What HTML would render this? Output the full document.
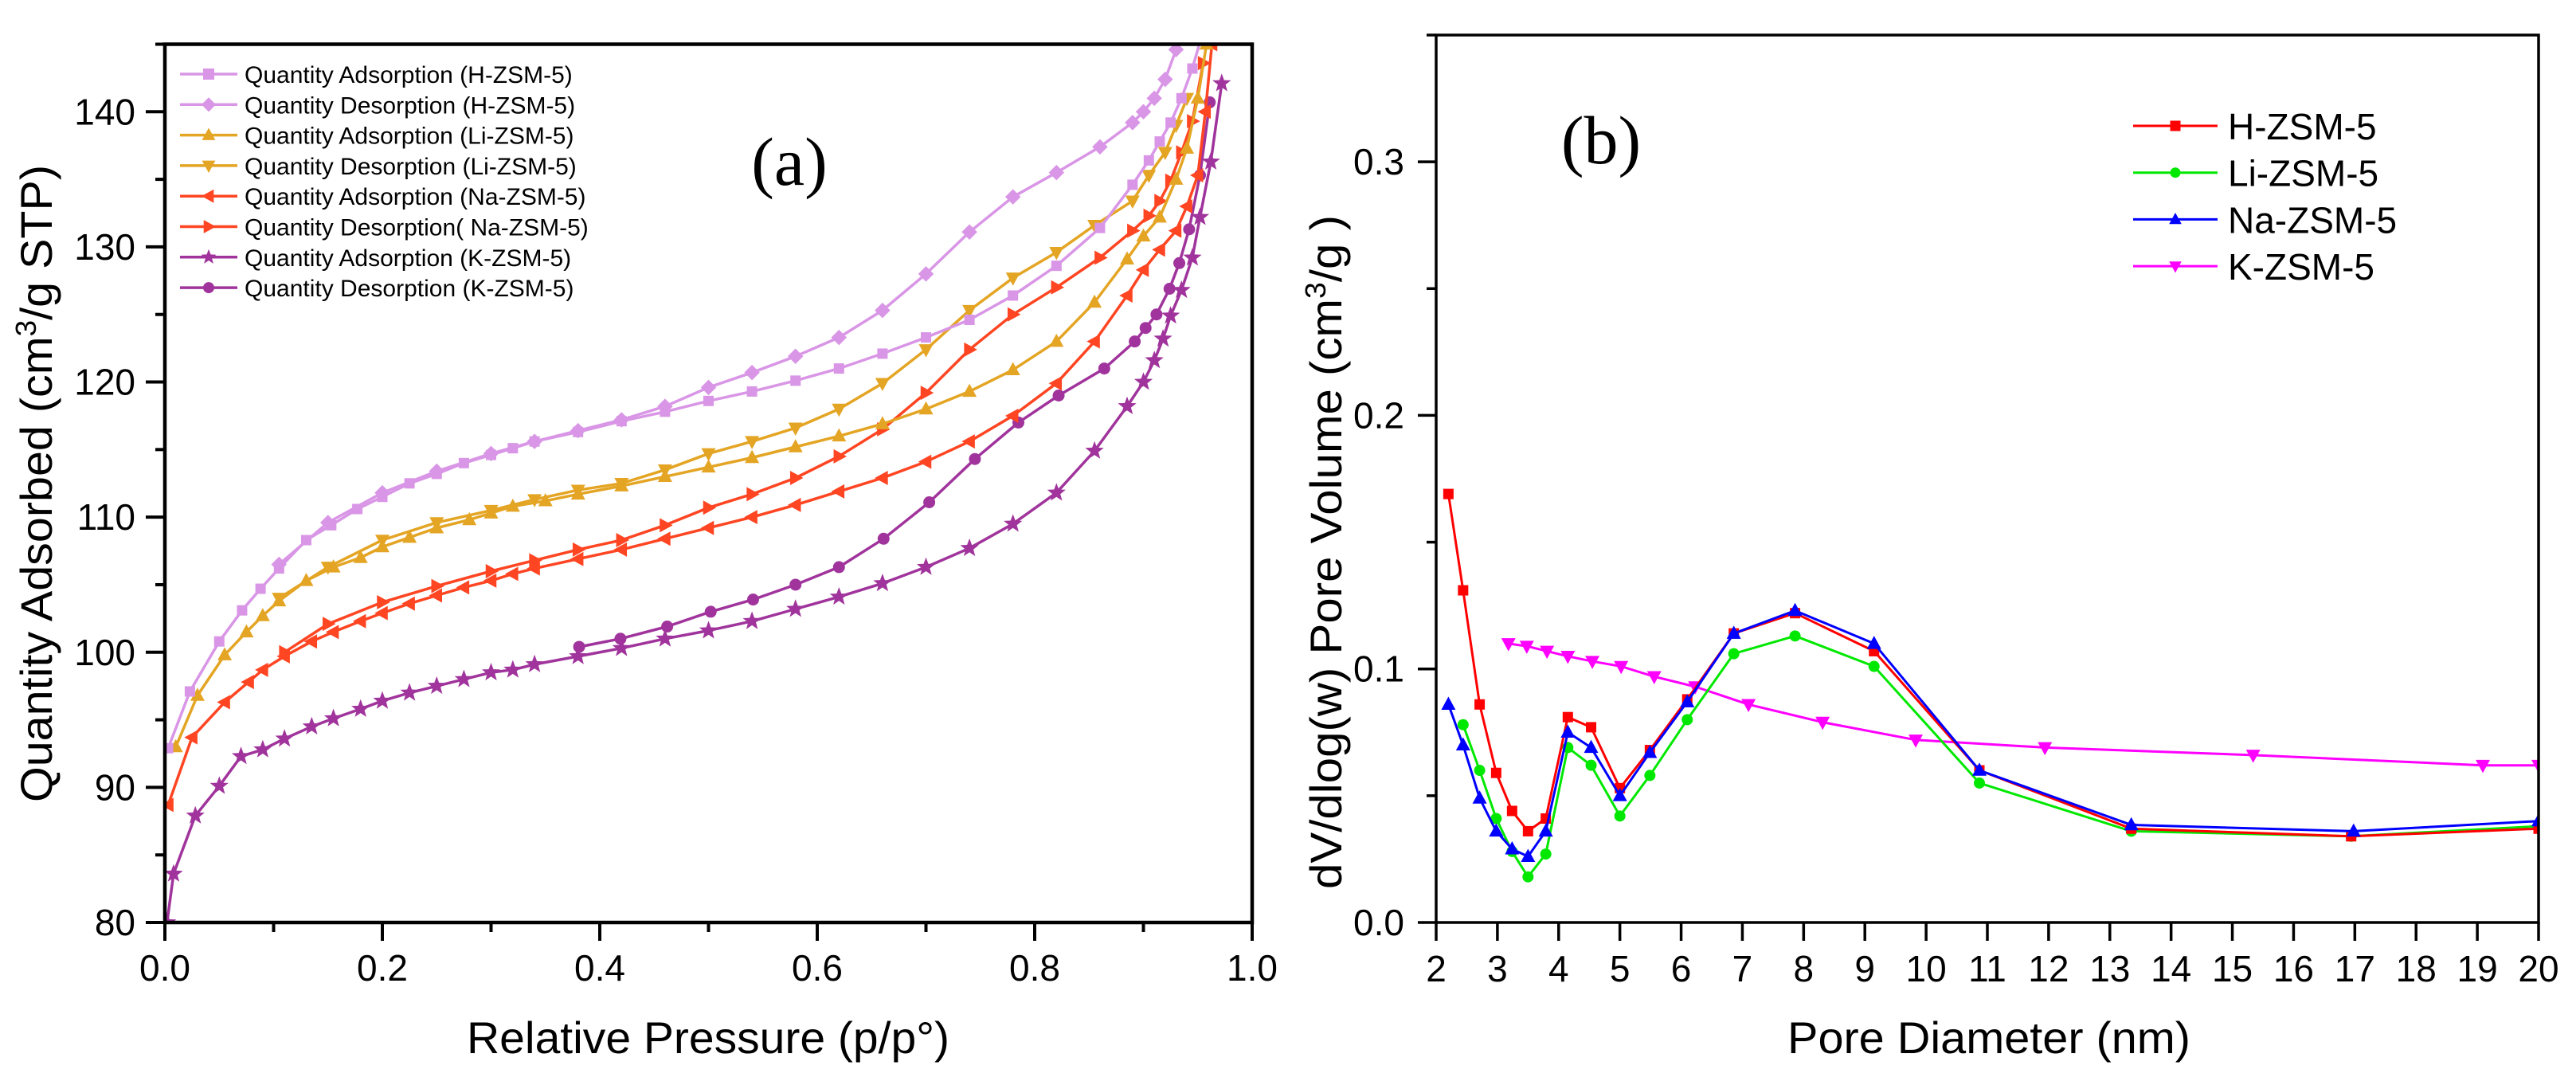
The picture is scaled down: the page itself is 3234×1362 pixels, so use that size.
<!DOCTYPE html>
<html><head><meta charset="utf-8"><style>
html,body{margin:0;padding:0;background:#fff;}
svg{display:block;font-family:"Liberation Sans",Arial,sans-serif;}
</style></head><body>
<svg id="fig" width="3234" height="1362" viewBox="0 0 3234 1362" xmlns="http://www.w3.org/2000/svg">
<rect width="3234" height="1362" fill="#fff"/>
<g id="pa"></g>
<g id="pb"></g>
</svg>
<script>
// ---- Chart (a) data ----
const aHAdsX=[0.003,0.023,0.05,0.071,0.088,0.105,0.13,0.153,0.177,0.2,0.225,0.25,0.275,0.3,0.32,0.34,0.38,0.42,0.46,0.5,0.54,0.58,0.62,0.66,0.7,0.74,0.78,0.82,0.86,0.89,0.905,0.915,0.925,0.935,0.945,0.955];
const aHAdsY=[92.9,97.1,100.8,103.1,104.7,106.2,108.3,109.4,110.6,111.5,112.5,113.2,114,114.6,115.1,115.6,116.3,117.1,117.8,118.6,119.3,120.1,121,122.1,123.3,124.6,126.4,128.6,131.4,134.6,136.4,137.8,139.2,141,143.2,146];
const aHDesX=[0.93,0.92,0.91,0.9,0.89,0.86,0.82,0.78,0.74,0.7,0.66,0.62,0.58,0.54,0.5,0.46,0.42,0.38,0.34,0.3,0.25,0.2,0.15,0.105];
const aHDesY=[144.6,142.4,141,140,139.2,137.4,135.5,133.7,131.1,128,125.3,123.3,121.9,120.7,119.6,118.2,117.2,116.4,115.6,114.7,113.4,111.8,109.6,106.5];
const aLiAdsX=[0.01,0.03,0.055,0.075,0.09,0.105,0.13,0.155,0.18,0.2,0.225,0.25,0.28,0.3,0.32,0.35,0.38,0.42,0.46,0.5,0.54,0.58,0.62,0.66,0.7,0.74,0.78,0.82,0.855,0.885,0.9,0.915,0.93,0.94,0.95,0.958];
const aLiAdsY=[93,96.8,99.8,101.5,102.7,103.8,105.3,106.3,107,107.8,108.5,109.2,109.8,110.3,110.8,111.2,111.7,112.3,113,113.7,114.4,115.2,116,116.9,118,119.3,120.9,123,125.9,129.1,130.8,132.2,135,137.3,141,145];
const aLiDesX=[0.94,0.93,0.92,0.905,0.89,0.855,0.82,0.78,0.74,0.7,0.66,0.62,0.58,0.54,0.5,0.46,0.42,0.38,0.34,0.3,0.25,0.2,0.15,0.105];
const aLiDesY=[141,139,137,135.3,133.4,131.6,129.6,127.7,125.3,122.4,119.9,118,116.6,115.6,114.7,113.5,112.5,112,111.3,110.5,109.6,108.3,106.3,104];
const aNaAdsX=[0.003,0.025,0.055,0.077,0.09,0.11,0.135,0.155,0.18,0.2,0.225,0.25,0.275,0.3,0.32,0.34,0.38,0.42,0.46,0.5,0.54,0.58,0.62,0.66,0.7,0.74,0.78,0.82,0.855,0.885,0.9,0.915,0.93,0.94,0.95,0.957,0.963];
const aNaAdsY=[88.7,93.7,96.3,97.8,98.7,99.7,100.8,101.5,102.3,102.9,103.6,104.2,104.8,105.3,105.8,106.2,106.9,107.6,108.4,109.2,110,110.9,111.9,112.9,114.1,115.6,117.5,119.9,123,126.4,128.3,129.8,131.2,133,135.3,140,145];
const aNaDesX=[0.955,0.945,0.935,0.925,0.915,0.905,0.89,0.86,0.82,0.78,0.74,0.7,0.66,0.62,0.58,0.54,0.5,0.46,0.42,0.38,0.34,0.3,0.25,0.2,0.15,0.11];
const aNaDesY=[143.6,139.3,137,134.9,133.4,132.3,131.2,129.2,127,125,122.4,119.2,116.5,114.5,112.9,111.7,110.7,109.4,108.3,107.6,106.8,106,104.9,103.7,102.1,100];
const aKAdsX=[0.002,0.008,0.028,0.05,0.07,0.09,0.11,0.135,0.155,0.18,0.2,0.225,0.25,0.275,0.3,0.32,0.34,0.38,0.42,0.46,0.5,0.54,0.58,0.62,0.66,0.7,0.74,0.78,0.82,0.855,0.885,0.9,0.91,0.918,0.925,0.935,0.945,0.952,0.962,0.972];
const aKAdsY=[80,83.6,87.9,90.1,92.3,92.8,93.6,94.5,95.1,95.8,96.4,97,97.5,98,98.5,98.7,99.1,99.7,100.3,101,101.6,102.3,103.2,104.1,105.1,106.3,107.7,109.5,111.8,114.9,118.2,120,121.6,123.2,124.9,126.8,129.2,132.2,136.3,142.1];
const aKDesX=[0.961,0.952,0.942,0.933,0.924,0.912,0.902,0.892,0.864,0.822,0.785,0.745,0.703,0.661,0.62,0.58,0.541,0.502,0.462,0.419,0.381];
const aKDesY=[140.7,135.3,131.3,128.8,126.9,125,124,123,121,119,117,114.3,111.1,108.4,106.3,105,103.9,103,101.9,101,100.4];
const aXTicks=["0.0","0.2","0.4","0.6","0.8","1.0"];
const aYTicks=["80","90","100","110","120","130","140"];
const aLegend=["Quantity Adsorption (H-ZSM-5)","Quantity Desorption (H-ZSM-5)","Quantity Adsorption (Li-ZSM-5)","Quantity Desorption (Li-ZSM-5)","Quantity Adsorption (Na-ZSM-5)","Quantity Desorption( Na-ZSM-5)","Quantity Adsorption (K-ZSM-5)","Quantity Desorption (K-ZSM-5)"];
// ---- Chart (b) data ----
const bHX=[2.2,2.44,2.71,2.98,3.24,3.5,3.79,4.15,4.53,5.0,5.49,6.1,6.86,7.86,9.15,10.87,13.35,16.94,20];
const bHY=[0.169,0.131,0.086,0.059,0.044,0.036,0.041,0.081,0.077,0.053,0.068,0.088,0.114,0.122,0.107,0.060,0.037,0.034,0.037];
const bLiX=[2.44,2.71,2.98,3.24,3.5,3.79,4.15,4.53,5.0,5.49,6.1,6.86,7.86,9.15,10.87,13.35,16.94,20];
const bLiY=[0.078,0.060,0.041,0.028,0.018,0.027,0.069,0.062,0.042,0.058,0.080,0.106,0.113,0.101,0.055,0.036,0.034,0.038];
const bNaX=[2.2,2.44,2.71,2.98,3.24,3.5,3.79,4.15,4.53,5.0,5.49,6.1,6.86,7.86,9.15,10.87,13.35,16.98,20];
const bNaY=[0.086,0.070,0.049,0.036,0.029,0.026,0.036,0.075,0.069,0.050,0.067,0.087,0.114,0.123,0.110,0.060,0.0385,0.036,0.040];
const bKX=[3.18,3.48,3.81,4.15,4.55,5.02,5.56,6.23,7.1,8.31,9.83,11.94,15.34,19.09,20];
const bKY=[0.110,0.109,0.107,0.105,0.103,0.101,0.097,0.093,0.086,0.079,0.072,0.069,0.066,0.062,0.062];
const bXTicks=["2","3","4","5","6","7","8","9","10","11","12","13","14","15","16","17","18","19","20"];
const bYTicks=["0.0","0.1","0.2","0.3"];
const bLegend=["H-ZSM-5","Li-ZSM-5","Na-ZSM-5","K-ZSM-5"];

const NS="http://www.w3.org/2000/svg";
function mk(parent,tag,attrs,text){const e=document.createElementNS(NS,tag);for(const k in attrs)e.setAttribute(k,attrs[k]);if(text!==undefined)e.textContent=text;parent.appendChild(e);return e;}

const ax={x0:207,x1:1572,y0:1158,y1:55.5,xmin:0,xmax:1,ymin:80,ymax:145};
const bx={x0:1803,x1:3187,y0:1158,y1:44,xmin:2,xmax:20,ymin:0,ymax:0.35};
function sx(a,v){return a.x0+(v-a.xmin)/(a.xmax-a.xmin)*(a.x1-a.x0);}
function sy(a,v){return a.y0-(v-a.ymin)/(a.ymax-a.ymin)*(a.y0-a.y1);}

function marker(g,type,x,y,s,color){
  let e;
  if(type==="square"){e=mk(g,"rect",{x:x-s/2,y:y-s/2,width:s,height:s,fill:color});}
  else if(type==="diamond"){e=mk(g,"polygon",{points:`${x},${y-s*0.65} ${x+s*0.65},${y} ${x},${y+s*0.65} ${x-s*0.65},${y}`,fill:color});}
  else if(type==="up"){e=mk(g,"polygon",{points:`${x},${y-s*0.65} ${x+s*0.6},${y+s*0.45} ${x-s*0.6},${y+s*0.45}`,fill:color});}
  else if(type==="down"){e=mk(g,"polygon",{points:`${x},${y+s*0.65} ${x+s*0.6},${y-s*0.45} ${x-s*0.6},${y-s*0.45}`,fill:color});}
  else if(type==="left"){e=mk(g,"polygon",{points:`${x-s*0.65},${y} ${x+s*0.45},${y-s*0.6} ${x+s*0.45},${y+s*0.6}`,fill:color});}
  else if(type==="right"){e=mk(g,"polygon",{points:`${x+s*0.65},${y} ${x-s*0.45},${y-s*0.6} ${x-s*0.45},${y+s*0.6}`,fill:color});}
  else if(type==="star"){let p=[];for(let i=0;i<10;i++){const r=i%2?s*0.3:s*0.72;const t=-Math.PI/2+i*Math.PI/5;p.push((x+r*Math.cos(t)).toFixed(1)+","+(y+r*Math.sin(t)).toFixed(1));}e=mk(g,"polygon",{points:p.join(" "),fill:color});}
  else {e=mk(g,"circle",{cx:x,cy:y,r:s*0.5,fill:color});}
  
  
  return e;
}

function series(root,a,xs,ys,color,type,name,lw,ms,clipId){
  const g=mk(root,"g",{"clip-path":`url(#${clipId})`});
  
  
  const pts=xs.map((v,i)=>sx(a,v).toFixed(1)+","+sy(a,ys[i]).toFixed(1)).join(" ");
  const pl=mk(g,"polyline",{points:pts,fill:"none",stroke:color,"stroke-width":lw,"stroke-linejoin":"round"});
  
  
  xs.forEach((v,i)=>marker(g,type,sx(a,v),sy(a,ys[i]),ms,color));
}

const svg=document.getElementById("fig");
const defs=mk(svg,"defs",{});
const ca=mk(defs,"clipPath",{id:"clipA"});mk(ca,"rect",{x:ax.x0,y:ax.y1,width:ax.x1-ax.x0,height:ax.y0-ax.y1});
const cb=mk(defs,"clipPath",{id:"clipB"});mk(cb,"rect",{x:bx.x0,y:bx.y1,width:bx.x1-bx.x0,height:bx.y0-bx.y1});

// ===== Chart (a) =====
const pa=document.getElementById("pa");
const cH="#D996E6",cLi="#E4A524",cNa="#FF4522",cK="#A0349C";
series(pa,ax,aKAdsX,aKAdsY,cK,"star","series-k-adsorption",3.5,17,"clipA");
series(pa,ax,aKDesX,aKDesY,cK,"circle","series-k-desorption",3.5,15,"clipA");
series(pa,ax,aNaAdsX,aNaAdsY,cNa,"left","series-na-adsorption",3.5,15,"clipA");
series(pa,ax,aNaDesX,aNaDesY,cNa,"right","series-na-desorption",3.5,15,"clipA");
series(pa,ax,aLiAdsX,aLiAdsY,cLi,"up","series-li-adsorption",3.5,15,"clipA");
series(pa,ax,aLiDesX,aLiDesY,cLi,"down","series-li-desorption",3.5,15,"clipA");
series(pa,ax,aHAdsX,aHAdsY,cH,"square","series-h-adsorption",3.5,13,"clipA");
series(pa,ax,aHDesX,aHDesY,cH,"diamond","series-h-desorption",3.5,15,"clipA");

const fa=mk(pa,"rect",{x:ax.x0,y:ax.y1,width:ax.x1-ax.x0,height:ax.y0-ax.y1,fill:"none",stroke:"#000","stroke-width":4.5});


aXTicks.forEach((t,i)=>{const v=i*0.2;const x=sx(ax,v);
  mk(pa,"line",{x1:x,y1:ax.y0,x2:x,y2:ax.y0+23,stroke:"#000","stroke-width":4});
  const tx=mk(pa,"text",{x:x,y:1231,"font-size":46,"text-anchor":"middle"},t);
  
  
  if(i<5){const xm=sx(ax,v+0.1);mk(pa,"line",{x1:xm,y1:ax.y0,x2:xm,y2:ax.y0+12,stroke:"#000","stroke-width":4});}
});
aYTicks.forEach((t,i)=>{const v=80+i*10;const y=sy(ax,v);
  mk(pa,"line",{x1:ax.x0,y1:y,x2:ax.x0-24,y2:y,stroke:"#000","stroke-width":4});
  const tx=mk(pa,"text",{x:170,y:y+16,"font-size":46,"text-anchor":"end"},t);
  
  
  const ym=sy(ax,v+5);mk(pa,"line",{x1:ax.x0,y1:ym,x2:ax.x0-12,y2:ym,stroke:"#000","stroke-width":4});
});
const xta=mk(pa,"text",{x:889,y:1322,"font-size":56,"text-anchor":"middle",textLength:606,lengthAdjust:"spacingAndGlyphs"},"Relative Pressure (p/p°)");


const yta=mk(pa,"text",{x:0,y:0,"font-size":56,"text-anchor":"middle",transform:"translate(65,607) rotate(-90)",textLength:800,lengthAdjust:"spacingAndGlyphs"});
yta.innerHTML='Quantity Adsorbed (cm<tspan dy="-20" font-size="36">3</tspan><tspan dy="20">/g STP)</tspan>';


const la=mk(pa,"text",{x:991,y:232,"font-size":86,"text-anchor":"middle","font-family":"Liberation Serif, serif"},"(a)");


const legA=mk(pa,"g",{});


const legCols=[cH,cH,cLi,cLi,cNa,cNa,cK,cK],legTypes=["square","diamond","up","down","left","right","star","circle"];
aLegend.forEach((t,i)=>{const y=93+i*38.3;
  const g=mk(legA,"g",{});
  
  
  mk(g,"line",{x1:226,y1:y,x2:298,y2:y,stroke:legCols[i],"stroke-width":3.5});
  marker(g,legTypes[i],262,y,14,legCols[i]);
  mk(g,"text",{x:307,y:y+11,"font-size":30},t);
});

// ===== Chart (b) =====
const pb=document.getElementById("pb");
series(pb,bx,bKX,bKY,"#FF00FF","down","series-k-zsm5",3,15,"clipB");
series(pb,bx,bLiX,bLiY,"#00E800","circle","series-li-zsm5",3,14,"clipB");
series(pb,bx,bHX,bHY,"#FF0000","square","series-h-zsm5",3,13,"clipB");
series(pb,bx,bNaX,bNaY,"#0000FF","up","series-na-zsm5",3,15,"clipB");
const fb=mk(pb,"rect",{x:bx.x0,y:bx.y1,width:bx.x1-bx.x0,height:bx.y0-bx.y1,fill:"none",stroke:"#000","stroke-width":3.5});


bXTicks.forEach((t,i)=>{const v=2+i;const x=sx(bx,v);
  mk(pb,"line",{x1:x,y1:bx.y0,x2:x,y2:bx.y0+23,stroke:"#000","stroke-width":3.5});
  const tx=mk(pb,"text",{x:x,y:1232,"font-size":46,"text-anchor":"middle"},t);
  
  
});
bYTicks.forEach((t,i)=>{const v=i*0.1;const y=sy(bx,v);
  mk(pb,"line",{x1:bx.x0,y1:y,x2:bx.x0-23,y2:y,stroke:"#000","stroke-width":3.5});
  const tx=mk(pb,"text",{x:1763,y:y+16,"font-size":46,"text-anchor":"end"},t);
  
  
  const ym=sy(bx,v+0.05);mk(pb,"line",{x1:bx.x0,y1:ym,x2:bx.x0-12,y2:ym,stroke:"#000","stroke-width":3.5});
});
const xtb=mk(pb,"text",{x:2497,y:1322,"font-size":56,"text-anchor":"middle",textLength:506,lengthAdjust:"spacingAndGlyphs"},"Pore Diameter (nm)");


const ytb=mk(pb,"text",{x:0,y:0,"font-size":56,"text-anchor":"middle",transform:"translate(1684,693) rotate(-90)",textLength:846,lengthAdjust:"spacingAndGlyphs"});
ytb.innerHTML='dV/dlog(w) Pore Volume (cm<tspan dy="-20" font-size="36">3</tspan><tspan dy="20">/g )</tspan>';


const lb=mk(pb,"text",{x:2010,y:205,"font-size":86,"text-anchor":"middle","font-family":"Liberation Serif, serif"},"(b)");


const legB=mk(pb,"g",{});


const bCols=["#FF0000","#00E800","#0000FF","#FF00FF"],bTypes=["square","circle","up","down"];
bLegend.forEach((t,i)=>{const y=158+i*58.7;
  const g=mk(legB,"g",{});
  
  
  mk(g,"line",{x1:2678,y1:y,x2:2784,y2:y,stroke:bCols[i],"stroke-width":3});
  marker(g,bTypes[i],2731,y,13,bCols[i]);
  mk(g,"text",{x:2797,y:y+17,"font-size":46},t);
});
</script>
</body></html>
